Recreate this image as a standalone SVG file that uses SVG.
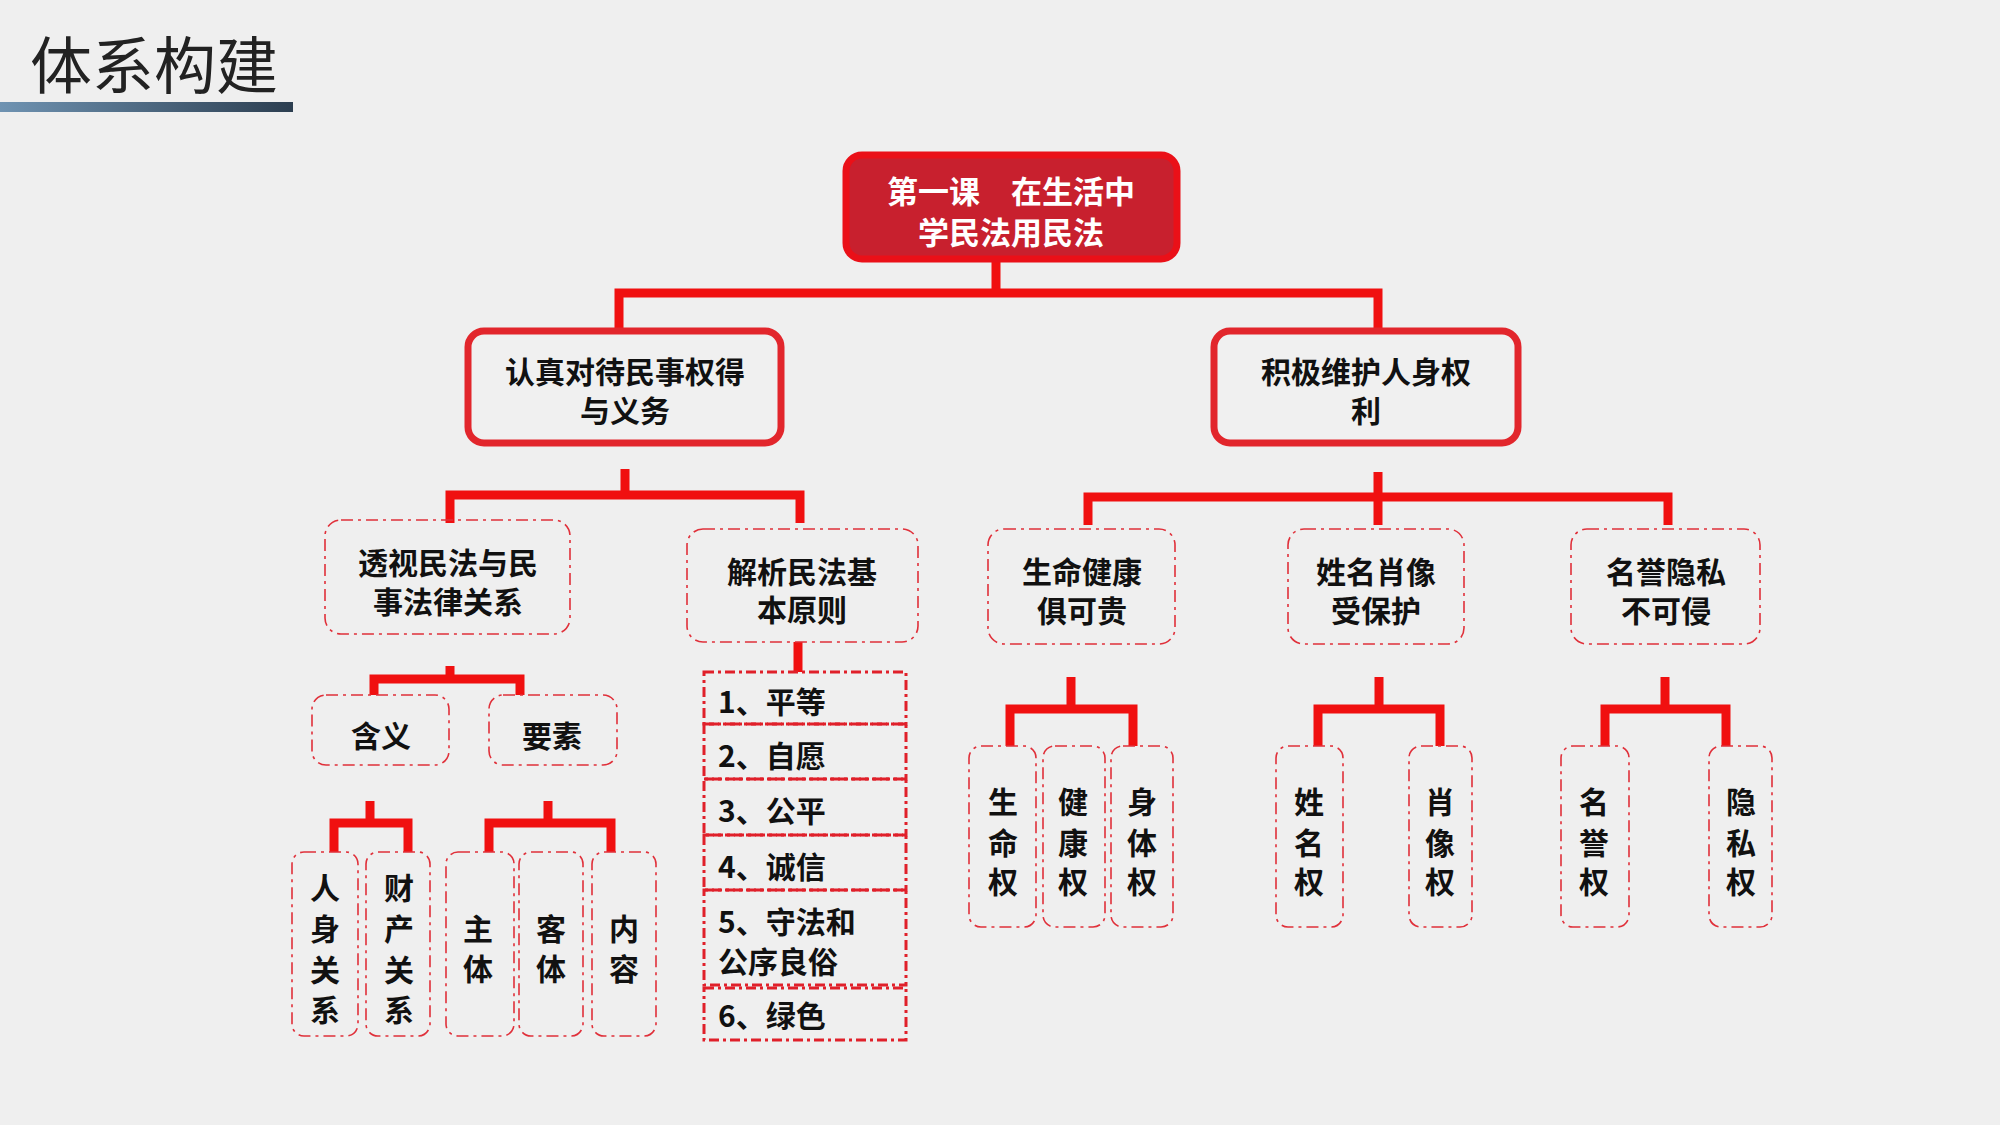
<svg xmlns="http://www.w3.org/2000/svg" width="2000" height="1125" viewBox="0 0 2000 1125">
<defs>
<linearGradient id="bar" x1="0" x2="1" y1="0" y2="0"><stop offset="0" stop-color="#6f93b2"/><stop offset="1" stop-color="#2c3e50"/></linearGradient>
<style>
text{font-family:"Noto Sans CJK SC","Liberation Sans",sans-serif;font-weight:bold;font-size:30px;fill:#111;text-anchor:middle;dominant-baseline:central}
.w{fill:#fff;font-size:31px}
.l{text-anchor:start}
.ln{stroke:#f01010;stroke-width:9;fill:none}
.b1{fill:#f0f0f0;stroke:#e2262c;stroke-width:7}
.d{fill:none;stroke:#e0303a;stroke-width:1.6;stroke-dasharray:12 5 3 5}
.dl{fill:none;stroke:#e0202a;stroke-width:3;stroke-dasharray:10 4 3 4}
</style>
</defs>
<rect width="2000" height="1125" fill="#efefef"/>
<g id="title"><text x="30" y="62" class="l" style="font-weight:normal;font-size:62px;fill:#222">体系构建</text><rect x="0" y="102" width="293" height="10" fill="url(#bar)"/></g>
<g id="connectors">
<path class="ln" d="M996 261V293M619 329V293H1378V329"/>
<path class="ln" d="M625 469V495M450 523V495H800V523"/>
<path class="ln" d="M1378 472V525M1088 525V497H1668V525"/>
<path class="ln" d="M450 666V679M374 695V679H520V695"/>
<path class="ln" d="M370 801V823M334 852V823H408V852"/>
<path class="ln" d="M548 801V823M489 852V823H611V852"/>
<path class="ln" d="M798 642V672"/>
<path class="ln" d="M1071 677V709M1010 746V709H1133V746"/>
<path class="ln" d="M1379 677V709M1318 746V709H1440V746"/>
<path class="ln" d="M1665 677V709M1605 746V709H1726V746"/>
</g>
<g id="root"><rect x="846" y="155" width="331" height="104" rx="16" fill="#c8202e" stroke="#ea1018" stroke-width="7"/><text class="w" x="1011" y="189">第一课　在生活中</text><text class="w" x="1011" y="230">学民法用民法</text></g>
<g id="n1"><rect class="b1" x="468" y="331" width="313" height="112" rx="16"/><text x="625" y="370">认真对待民事权得</text><text x="625" y="409">与义务</text></g>
<g id="n2"><rect class="b1" x="1214" y="331" width="304" height="112" rx="16"/><text x="1366" y="370">积极维护人身权</text><text x="1366" y="409">利</text></g>
<g id="a"><rect class="d" x="325" y="520" width="245" height="114" rx="16"/><text x="448" y="561">透视民法与民</text><text x="448" y="600">事法律关系</text></g>
<g id="b"><rect class="d" x="687" y="529" width="231" height="113" rx="16"/><text x="802" y="570">解析民法基</text><text x="802" y="608">本原则</text></g>
<g id="c"><rect class="d" x="988" y="529" width="187" height="115" rx="16"/><text x="1082" y="570">生命健康</text><text x="1082" y="609">俱可贵</text></g>
<g id="dd"><rect class="d" x="1288" y="529" width="176" height="115" rx="16"/><text x="1376" y="570">姓名肖像</text><text x="1376" y="609">受保护</text></g>
<g id="e"><rect class="d" x="1571" y="529" width="189" height="115" rx="16"/><text x="1666" y="570">名誉隐私</text><text x="1666" y="609">不可侵</text></g>
<g id="hy"><rect class="d" x="312" y="695" width="137" height="70" rx="14"/><text x="381" y="734">含义</text></g>
<g id="ys"><rect class="d" x="489" y="695" width="128" height="70" rx="14"/><text x="552" y="734">要素</text></g>
<g id="rs"><rect class="d" x="292" y="852" width="66" height="184" rx="12"/><text x="325" y="886">人</text><text x="325" y="927">身</text><text x="325" y="968">关</text><text x="325" y="1008">系</text></g>
<g id="cc"><rect class="d" x="366" y="852" width="64" height="184" rx="12"/><text x="399" y="886">财</text><text x="399" y="927">产</text><text x="399" y="968">关</text><text x="399" y="1008">系</text></g>
<g id="zt"><rect class="d" x="446" y="852" width="68" height="184" rx="12"/><text x="478" y="927">主</text><text x="478" y="967">体</text></g>
<g id="kt"><rect class="d" x="519" y="852" width="64" height="184" rx="12"/><text x="551" y="927">客</text><text x="551" y="967">体</text></g>
<g id="nr"><rect class="d" x="592" y="852" width="64" height="184" rx="12"/><text x="624" y="927">内</text><text x="624" y="967">容</text></g>
<g id="list">
<rect class="dl" x="704" y="672" width="202" height="52"/><text class="l" x="718" y="700">1、平等</text>
<rect class="dl" x="704" y="724" width="202" height="55"/><text class="l" x="718" y="754">2、自愿</text>
<rect class="dl" x="704" y="779" width="202" height="56"/><text class="l" x="718" y="809">3、公平</text>
<rect class="dl" x="704" y="835" width="202" height="55"/><text class="l" x="718" y="865">4、诚信</text>
<rect class="dl" x="704" y="890" width="202" height="95"/><text class="l" x="718" y="920">5、守法和</text><text class="l" x="718" y="960">公序良俗</text>
<rect class="dl" x="704" y="988" width="202" height="52"/><text class="l" x="718" y="1014">6、绿色</text>
</g>
<g id="sm"><rect class="d" x="969" y="746" width="67" height="181" rx="12"/><text x="1003" y="800">生</text><text x="1003" y="841">命</text><text x="1003" y="880">权</text></g>
<g id="jk"><rect class="d" x="1043" y="746" width="62" height="181" rx="12"/><text x="1073" y="800">健</text><text x="1073" y="841">康</text><text x="1073" y="880">权</text></g>
<g id="st"><rect class="d" x="1111" y="746" width="62" height="181" rx="12"/><text x="1142" y="800">身</text><text x="1142" y="841">体</text><text x="1142" y="880">权</text></g>
<g id="xm"><rect class="d" x="1276" y="746" width="67" height="181" rx="12"/><text x="1309" y="800">姓</text><text x="1309" y="841">名</text><text x="1309" y="880">权</text></g>
<g id="xx"><rect class="d" x="1409" y="746" width="63" height="181" rx="12"/><text x="1440" y="800">肖</text><text x="1440" y="841">像</text><text x="1440" y="880">权</text></g>
<g id="my"><rect class="d" x="1561" y="746" width="68" height="181" rx="12"/><text x="1594" y="800">名</text><text x="1594" y="841">誉</text><text x="1594" y="880">权</text></g>
<g id="ysq"><rect class="d" x="1709" y="746" width="63" height="181" rx="12"/><text x="1741" y="800">隐</text><text x="1741" y="841">私</text><text x="1741" y="880">权</text></g>
</svg>
